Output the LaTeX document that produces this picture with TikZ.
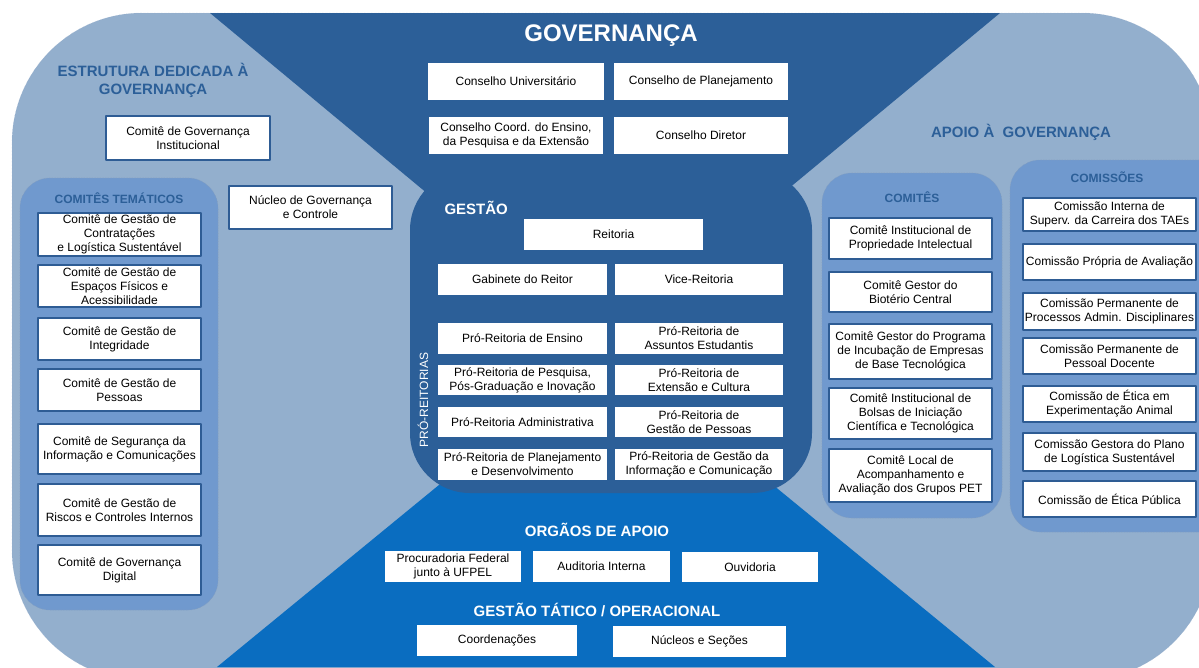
\documentclass[tikz,border=0pt]{standalone}
\usepackage{fontspec}
\setmainfont{Liberation Sans}
\definecolor{fundo}{HTML}{93AFCD}
\definecolor{escuro}{HTML}{2C5F98}
\definecolor{vivo}{HTML}{0A6DC0}
\definecolor{medio}{HTML}{7099CE}
\definecolor{borda}{HTML}{2E5C94}
\begin{document}
\begin{tikzpicture}[x=1pt,y=-1pt,line join=round,
caixa/.style={fill=white,align=center,inner sep=0pt,font=\fontsize{12}{14}\selectfont},
caixab/.style={caixa,draw=borda,line width=2.2pt},
grupo/.style={fill=medio,draw=borda!60,densely dotted,line width=0.6pt,rounded corners=30},
titulo/.style={font=\bfseries\fontsize{15}{18}\selectfont,align=center},
subtitulo/.style={font=\bfseries\fontsize{12}{14}\selectfont,text=escuro}]
\useasboundingbox(0,0)rectangle(1199,667);
\clip(0,0)rectangle(1199,667);
\filldraw[fill=fundo,draw=borda!50,densely dotted,rounded corners=130](12,13)rectangle(1212,680);
\fill[escuro](210,13)--(1000,13)--(605,341)--cycle;
\fill[vivo](217,667)--(995,667)--(606,348)--cycle;
\fill[escuro,rounded corners=60](410,170)rectangle(812,493);
\draw[grupo](20,178)rectangle(218,610);
\draw[grupo](822,173)rectangle(1002,518);
\draw[grupo](1010,160)rectangle(1230,532);
% titulos
\node[font=\bfseries\fontsize{24}{28}\selectfont,text=white](governanca)at(611,36){GOVERNANÇA};
\node[titulo,text=escuro](estrutura)at(153,80){ESTRUTURA DEDICADA À\\GOVERNANÇA};
\node[titulo,text=escuro](apoio)at(1021,132){APOIO À\ \ GOVERNANÇA};
\node[subtitulo](tematicos)at(119,198){COMITÊS TEMÁTICOS};
\node[subtitulo](comites)at(912,197){COMITÊS};
\node[subtitulo](comissoes)at(1107,177){COMISSÕES};
\node[titulo,text=white,anchor=west](gestao)at(441,208){GESTÃO};
\node[rotate=90,text=white,font=\fontsize{12}{14}\selectfont](proreitorias)at(423,400){PRÓ-REITORIAS};
\node[titulo,text=white](orgaos)at(597,530){ORGÃOS DE APOIO};
\node[titulo,text=white](tatico)at(597,610){GESTÃO TÁTICO / OPERACIONAL};
% caixas soltas
\foreach \n/\xa/\xb/\ya/\yb/\t in{g1/428/604/63/100/{Conselho Universitário},
g2/614/788/63/100/{Conselho de Planejamento},
g3/429/603/117/154/{Conselho Coord. do Ensino,\\da Pesquisa e da Extensão},
g4/614/788/117/154/{Conselho Diretor},
re/524/703/219/250/{Reitoria},gab/438/607/264/295/{Gabinete do Reitor},vr/615/783/264/295/{Vice-Reitoria},
pf/385/521/551/582/{Procuradoria Federal\\junto à UFPEL},ai/533/670/551/582/{Auditoria Interna},
ou/682/818/552/582/{Ouvidoria},co/417/577/625/656/{Coordenações},ns/613/786/626/657/{Núcleos e Seções}}
\node[caixa,minimum width={\xb-\xa},minimum height={\yb-\ya}](\n)at({(\xa+\xb)/2},{(\ya+\yb)/2}){\t};
\node[caixab,minimum width=164,minimum height=44](cgi)at(188,138){Comitê de Governança\\Institucional};
\node[caixab,minimum width=163,minimum height=43](ngc)at(310.5,207.5){Núcleo de Governança\\e Controle};
% pro-reitorias
\foreach \i/\ya/\yb/\ta/\tb in{1/323/354/{Pró-Reitoria de Ensino}/{Pró-Reitoria de\\Assuntos Estudantis},
2/365/395/{Pró-Reitoria de Pesquisa,\\Pós-Graduação e Inovação}/{Pró-Reitoria de\\Extensão e Cultura},
3/407/437/{Pró-Reitoria Administrativa}/{Pró-Reitoria de\\Gestão de Pessoas},
4/449/480/{Pró-Reitoria de Planejamento\\e Desenvolvimento}/{Pró-Reitoria de Gestão da\\Informação e Comunicação}}{
\node[caixa,minimum width=169,minimum height={\yb-\ya}](pa\i)at(522.5,{(\ya+\yb)/2}){\ta};
\node[caixa,minimum width=168,minimum height={\yb-\ya}](pb\i)at(699,{(\ya+\yb)/2}){\tb};}
% comites tematicos
\foreach \i/\ya/\yb/\t in{1/212/257/{Comitê de Gestão de\\Contratações\\e Logística Sustentável},
2/264/308/{Comitê de Gestão de\\Espaços Físicos e\\Acessibilidade},
3/317/361/{Comitê de Gestão de\\Integridade},4/368/412/{Comitê de Gestão de\\Pessoas},
5/423/475/{Comitê de Segurança da\\Informação e Comunicações},
6/483/537/{Comitê de Gestão de\\Riscos e Controles Internos},7/544/596/{Comitê de Governança\\Digital}}
\node[caixab,minimum width=163,minimum height={\yb-\ya-2}](ct\i)at(119.5,{(\ya+\yb)/2}){\t};
% comites
\foreach \i/\ya/\yb/\t in{1/217/260/{Comitê Institucional de\\Propriedade Intelectual},
2/271/313/{Comitê Gestor do\\Biotério Central},
3/323/380/{Comitê Gestor do Programa\\de Incubação de Empresas\\de Base Tecnológica},
4/387/440/{Comitê Institucional de\\Bolsas de Iniciação\\Científica e Tecnológica},
5/448/503/{Comitê Local de\\Acompanhamento e\\Avaliação dos Grupos PET}}
\node[caixab,minimum width=163,minimum height={\yb-\ya-2}](cm\i)at(910.5,{(\ya+\yb)/2}){\t};
% comissoes
\foreach \i/\ya/\yb/\t in{1/197/232/{Comissão Interna de\\Superv. da Carreira dos TAEs},
2/243/281/{Comissão Própria de Avaliação},
3/292/331/{Comissão Permanente de\\Processos Admin. Disciplinares},
4/337/375/{Comissão Permanente de\\Pessoal Docente},
5/385/423/{Comissão de Ética em\\Experimentação Animal},
6/432/472/{Comissão Gestora do Plano\\de Logística Sustentável},7/480/518/{Comissão de Ética Pública}}
\node[caixab,minimum width=173,minimum height={\yb-\ya-2}](cs\i)at(1109.5,{(\ya+\yb)/2}){\t};
\end{tikzpicture}
\end{document}
